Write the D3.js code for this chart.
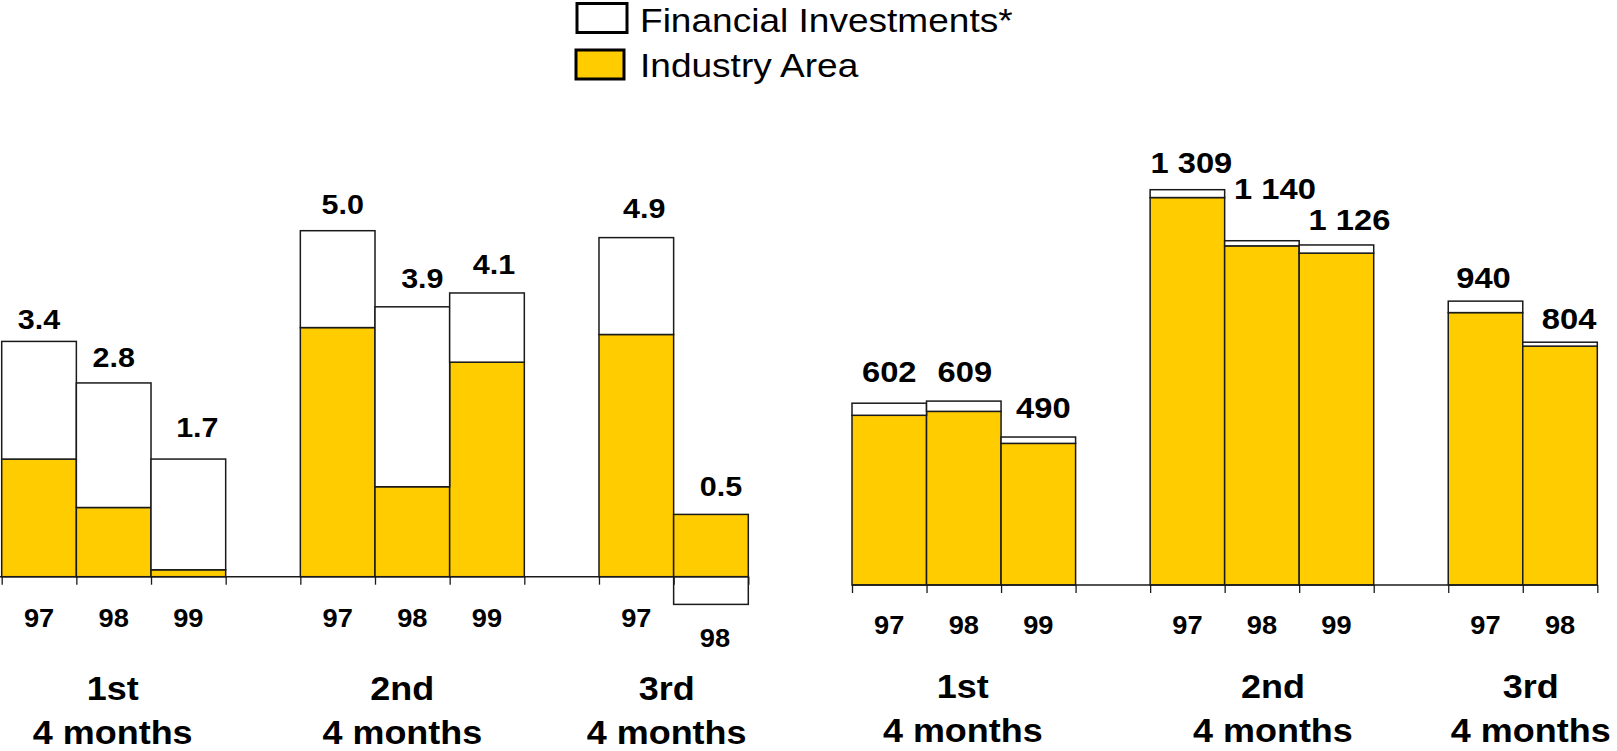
<!DOCTYPE html>
<html>
<head>
<meta charset="utf-8">
<script src="https://cdn.jsdelivr.net/npm/d3@7"></script>
<style>
  html, body { margin: 0; padding: 0; background: #fff; }
  svg { display: block; }
  text { font-family: "Liberation Sans", Arial, sans-serif; fill: #000; }
</style>
</head>
<body>
<svg id="chart" width="1617" height="751"></svg>
<script>
// ---------------- DATA ----------------
const groupNames = ["1st", "2nd", "3rd"];
const groupSubtitle = "4 months";
const categories = ["97", "98", "99", "97", "98", "99", "97", "98"];
const categoryGroup = [0, 0, 0, 1, 1, 1, 2, 2];
const seriesNames = ["Financial Investments*", "Industry Area"];

// left chart
const leftIndustry  = [1.7, 1.0, 0.1, 3.6, 1.3, 3.1, 3.5, 0.9];
const leftFinancial = [1.7, 1.8, 1.6, 1.4, 2.6, 1.0, 1.4, -0.4];
const leftLabels    = ["3.4", "2.8", "1.7", "5.0", "3.9", "4.1", "4.9", "0.5"];

// right chart
const rightIndustry  = [562, 575, 469, 1283, 1123, 1099, 902, 791];
const rightFinancial = [40, 34, 21, 26, 17, 27, 38, 13];
const rightLabels    = ["602", "609", "490", "1 309", "1 140", "1 126", "940", "804"];

// ---------------- LAYOUT ----------------
const COLORS = { industry: "#FFCC00", financial: "#FFFFFF", stroke: "#1a1a1a" };
const STRETCH = 1.09;

const panels = [
  {
    industry: leftIndustry, financial: leftFinancial, labels: leftLabels,
    xRange: [1.7, 748.3], yDomain: [0, 5], yRange: [576.7, 230.7],
    axisStart: 0, valueFont: 28, tickGap: 50, tickGapNeg: 43,
    labelDx: [0, 0, 9, 5, 10, 7, 8, 10],
    labelDy: [12, 16, 22, 17, 19, 19, 20, 18],
    groupDx: [-1, -10, -7], groupY: [700, 744]
  },
  {
    industry: rightIndustry, financial: rightFinancial, labels: rightLabels,
    xRange: [852, 1597.3], yDomain: [0, 1309], yRange: [585, 189.7],
    axisStart: 852, valueFont: 30, tickGap: 49, tickGapNeg: 43,
    labelDx: [0, 1, 5, 4, 13, 13, -2, 9],
    labelDy: [21, 19, 19, 17, 42, 15, 13, 13],
    groupDx: [-1, 11, 8], groupY: [698, 741.7]
  }
];

const svg = d3.select("#chart");
svg.append("rect").attr("width", 1617).attr("height", 751).attr("fill", "#fff");

function stretchedText(g, x, y, str, size, weight) {
  return g.append("text")
    .attr("transform", `translate(${x},${y}) scale(${STRETCH},1)`)
    .attr("text-anchor", "middle")
    .attr("font-size", size)
    .attr("font-weight", weight)
    .text(str);
}

// slot keys (categories with empty gap slots between groups)
const slots = [];
categories.forEach((c, i) => {
  if (i > 0 && categoryGroup[i] !== categoryGroup[i - 1]) slots.push("gap" + i);
  slots.push("c" + i);
});

panels.forEach(p => {
  const g = svg.append("g");
  const x = d3.scaleBand().domain(slots).range(p.xRange).paddingInner(0).paddingOuter(0);
  const xLin = d3.scaleLinear().domain([0, slots.length]).range(p.xRange);
  const y = d3.scaleLinear().domain(p.yDomain).range(p.yRange);

  const rows = categories.map((c, i) => ({
    key: "c" + i, industry: p.industry[i], financial: p.financial[i]
  }));
  const stack = d3.stack().keys(["industry", "financial"]).offset(d3.stackOffsetDiverging);
  const layers = stack(rows);

  layers.forEach(layer => {
    g.append("g").selectAll("rect")
      .data(layer)
      .join("rect")
      .attr("x", d => x(d.data.key))
      .attr("width", x.bandwidth())
      .attr("y", d => y(Math.max(d[0], d[1])))
      .attr("height", d => Math.abs(y(d[0]) - y(d[1])))
      .attr("fill", layer.key === "industry" ? COLORS.industry : COLORS.financial)
      .attr("stroke", COLORS.stroke)
      .attr("stroke-width", 1.5);
  });

  // axis (ticks between categories)
  const axis = d3.axisBottom(xLin)
    .tickValues(d3.range(slots.length + 1))
    .tickSize(8).tickSizeOuter(0).tickFormat("");
  const ag = g.append("g").attr("transform", `translate(0,${y(0)})`).call(axis);
  ag.select(".domain").attr("stroke", COLORS.stroke).attr("stroke-width", 1.6)
    .attr("d", `M${p.axisStart},0H${p.xRange[1]}`);
  ag.selectAll(".tick line").attr("stroke", COLORS.stroke).attr("stroke-width", 1.3);

  // value labels
  categories.forEach((c, i) => {
    const top = p.industry[i] + Math.max(p.financial[i], 0);
    const cx = x("c" + i) + x.bandwidth() / 2;
    stretchedText(g, cx + p.labelDx[i], y(top) - p.labelDy[i], p.labels[i], p.valueFont, "bold");
  });

  // category (year) labels, pushed below any negative bar
  categories.forEach((c, i) => {
    const cx = x("c" + i) + x.bandwidth() / 2;
    const low = Math.min(0, p.industry[i], p.financial[i]);
    const yy = Math.max(y(0) + p.tickGap, y(low) + p.tickGapNeg);
    stretchedText(g, cx + (low < 0 ? 4 : 0), yy, c, 25, "bold");
  });

  // group labels
  groupNames.forEach((name, gi) => {
    const idx = categories.map((c, i) => i).filter(i => categoryGroup[i] === gi);
    const x0 = x("c" + idx[0]);
    const x1 = x("c" + idx[idx.length - 1]) + x.bandwidth();
    const cx = (x0 + x1) / 2 + p.groupDx[gi];
    stretchedText(g, cx, p.groupY[0], name, 33, "bold");
    stretchedText(g, cx, p.groupY[1], groupSubtitle, 33, "bold");
  });
});

// legend
const legend = svg.append("g");
const legendItems = [
  { name: seriesNames[0], fill: COLORS.financial, box: [577, 3.5, 50, 29], ty: 31.7 },
  { name: seriesNames[1], fill: COLORS.industry, box: [576, 50, 48, 29], ty: 77.3 }
];
legendItems.forEach(it => {
  legend.append("rect")
    .attr("x", it.box[0]).attr("y", it.box[1])
    .attr("width", it.box[2]).attr("height", it.box[3])
    .attr("fill", it.fill).attr("stroke", "#000").attr("stroke-width", 3);
  legend.append("text")
    .attr("transform", `translate(640,${it.ty}) scale(${STRETCH},1)`)
    .attr("font-size", 34)
    .text(it.name);
});
</script>
</body>
</html>
